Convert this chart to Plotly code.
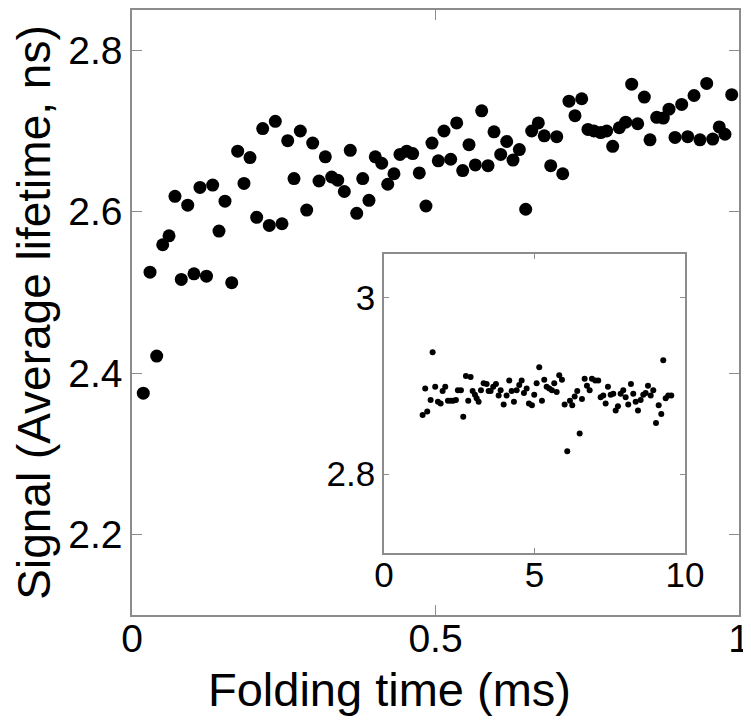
import plotly.graph_objects as go

# Main panel: folding time (ms) vs average lifetime (ns)
main_time = [0.0186, 0.0297, 0.0407, 0.0506, 0.0610, 0.0708, 0.0812, 0.0918, 0.1021, 0.1120,
             0.1227, 0.1329, 0.1433, 0.1532, 0.1643, 0.1741, 0.1845, 0.1944, 0.2054, 0.2153,
             0.2262, 0.2361, 0.2471, 0.2565, 0.2669, 0.2773, 0.2878, 0.2977, 0.3081, 0.3185,
             0.3290, 0.3389, 0.3498, 0.3596, 0.3702, 0.3801, 0.3904, 0.4008, 0.4114, 0.4213,
             0.4316, 0.4415, 0.4526, 0.4624, 0.4733, 0.4843, 0.4942, 0.5046, 0.5140, 0.5250,
             0.5349, 0.5448, 0.5552, 0.5656, 0.5761, 0.5865, 0.5964, 0.6074, 0.6173, 0.6277,
             0.6381, 0.6486, 0.6585, 0.6694, 0.6792, 0.6898, 0.6997, 0.7096, 0.7199, 0.7298,
             0.7409, 0.7512, 0.7611, 0.7722, 0.7820, 0.7919, 0.8028, 0.8133, 0.8232, 0.8331,
             0.8440, 0.8534, 0.8644, 0.8753, 0.8847, 0.8946, 0.9056, 0.9155, 0.9259, 0.9357,
             0.9468, 0.9567, 0.9675, 0.9769, 0.9880]
main_signal = [2.375, 2.525, 2.421, 2.559, 2.570, 2.619, 2.516, 2.608, 2.523, 2.630,
               2.520, 2.633, 2.576, 2.613, 2.512, 2.675, 2.635, 2.667, 2.593, 2.703,
               2.583, 2.712, 2.585, 2.688, 2.641, 2.700, 2.602, 2.685, 2.638, 2.668,
               2.643, 2.639, 2.625, 2.676, 2.598, 2.641, 2.614, 2.668, 2.660, 2.634,
               2.647, 2.671, 2.675, 2.672, 2.648, 2.607, 2.685, 2.663, 2.700, 2.665,
               2.710, 2.651, 2.683, 2.658, 2.725, 2.657, 2.699, 2.671, 2.687, 2.664,
               2.677, 2.603, 2.700, 2.710, 2.694, 2.657, 2.693, 2.647, 2.737, 2.719,
               2.740, 2.702, 2.700, 2.698, 2.700, 2.681, 2.704, 2.711, 2.758, 2.709,
               2.742, 2.689, 2.717, 2.716, 2.727, 2.692, 2.733, 2.693, 2.744, 2.689,
               2.759, 2.690, 2.705, 2.696, 2.745]

# Inset panel
inset_time = [1.286, 1.439, 1.372, 1.618, 1.551, 1.704, 1.794, 1.884, 1.950, 2.037,
              2.126, 2.216, 2.302, 2.392, 2.458, 2.558, 2.635, 2.724, 2.801, 2.880,
              2.947, 3.023, 3.080, 3.146, 3.223, 3.312, 3.412, 3.478, 3.545, 3.631,
              3.721, 3.811, 3.877, 3.977, 4.076, 4.163, 4.243, 4.319, 4.409, 4.495,
              4.575, 4.651, 4.741, 4.817, 4.917, 4.993, 5.073, 5.159, 5.249, 5.326,
              5.405, 5.492, 5.581, 5.658, 5.738, 5.824, 5.914, 6.003, 6.090, 6.179,
              6.256, 6.336, 6.422, 6.502, 6.578, 6.668, 6.744, 6.834, 6.910, 7.020,
              7.120, 7.199, 7.286, 7.365, 7.442, 7.532, 7.618, 7.698, 7.774, 7.864,
              7.950, 8.030, 8.116, 8.206, 8.282, 8.362, 8.439, 8.528, 8.615, 8.694,
              8.771, 8.861, 8.947, 9.037, 9.126, 9.213, 9.279, 9.359, 9.445, 9.545]
inset_signal = [2.867, 2.871, 2.897, 2.938, 2.884, 2.899, 2.882, 2.880, 2.894, 2.899,
                2.883, 2.883, 2.883, 2.884, 2.895, 2.895, 2.865, 2.911, 2.883, 2.910,
                2.894, 2.890, 2.886, 2.882, 2.895, 2.903, 2.902, 2.894, 2.894, 2.899,
                2.902, 2.889, 2.895, 2.879, 2.889, 2.906, 2.894, 2.882, 2.895, 2.901,
                2.906, 2.892, 2.897, 2.880, 2.878, 2.890, 2.903, 2.921, 2.883, 2.907,
                2.899, 2.897, 2.895, 2.903, 2.893, 2.912, 2.907, 2.879, 2.826, 2.883,
                2.878, 2.888, 2.894, 2.846, 2.885, 2.908, 2.900, 2.895, 2.908, 2.906,
                2.906, 2.887, 2.889, 2.880, 2.899, 2.890, 2.891, 2.872, 2.877, 2.891,
                2.895, 2.887, 2.879, 2.902, 2.891, 2.882, 2.872, 2.884, 2.890, 2.892,
                2.900, 2.889, 2.895, 2.858, 2.878, 2.868, 2.929, 2.886, 2.889, 2.889]

main_xticks = [0, 0.5, 1]
main_xticklabels = ["0", "0.5", "1"]
main_yticks = [2.2, 2.4, 2.6, 2.8]
main_yticklabels = ["2.2", "2.4", "2.6", "2.8"]
inset_xticks = [0, 5, 10]
inset_xticklabels = ["0", "5", "10"]
inset_yticks = [2.8, 3.0]
inset_yticklabels = ["2.8", "3"]

FONT = "Liberation Sans, Arial, sans-serif"
LINE = "#8c8c8c"

fig = go.Figure()
fig.add_trace(go.Scatter(x=main_time, y=main_signal, mode="markers",
                         marker=dict(size=13, color="black"),
                         xaxis="x", yaxis="y", showlegend=False))
fig.add_trace(go.Scatter(x=inset_time, y=inset_signal, mode="markers",
                         marker=dict(size=6, color="black"),
                         xaxis="x2", yaxis="y2", showlegend=False))

common = dict(showline=True, linecolor=LINE, linewidth=1.5, mirror="ticks",
              ticks="inside", tickcolor=LINE, tickwidth=1.2,
              showgrid=False, zeroline=False, automargin=False)

fig.update_layout(
    width=743, height=714,
    margin=dict(l=124, r=12, t=2, b=107),
    paper_bgcolor="white", plot_bgcolor="white",
    font=dict(family=FONT, color="black"),
    xaxis=dict(domain=[0, 1], range=[0, 1], anchor="y",
               tickvals=main_xticks, ticktext=main_xticklabels, ticklen=10,
               tickfont=dict(size=39, family=FONT), ticklabelstandoff=-12,
               **common),
    yaxis=dict(domain=[0, 1], range=[2.1, 2.85], anchor="x",
               tickvals=main_yticks, ticktext=main_yticklabels, ticklen=10,
               tickfont=dict(size=39, family=FONT),
               title=dict(text="Signal (Average lifetime, ns)", font=dict(size=46, family=FONT), standoff=6),
               **common),
    xaxis2=dict(domain=[0.415, 0.911], range=[0, 10], anchor="y2",
                tickvals=inset_xticks, ticktext=inset_xticklabels, ticklen=5,
                tickfont=dict(size=35, family=FONT), ticklabelstandoff=-10, **common),
    yaxis2=dict(domain=[0.1028, 0.5964], range=[2.711, 3.049], anchor="x2",
                tickvals=inset_yticks, ticktext=inset_yticklabels, ticklen=5,
                tickfont=dict(size=35, family=FONT), **common),
    annotations=[dict(text="Folding time (ms)", xref="paper", yref="paper",
                      x=0.425, y=-0.123, xanchor="center", yanchor="middle",
                      showarrow=False, font=dict(size=47, family=FONT, color="black"))],
)

fig.write_html("out.html")
